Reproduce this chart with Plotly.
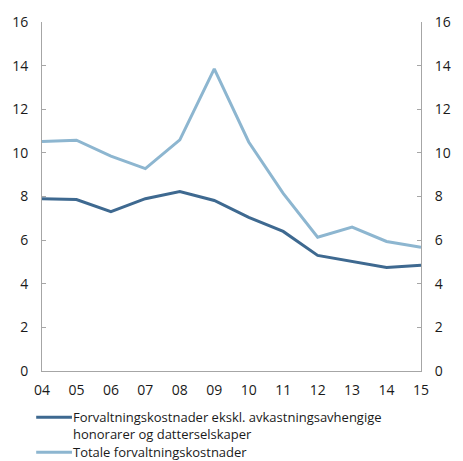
import plotly.graph_objects as go

years = ["04", "05", "06", "07", "08", "09", "10", "11", "12", "13", "14", "15"]
excl_costs = [7.9, 7.86, 7.31, 7.9, 8.23, 7.82, 7.04, 6.4, 5.3, 5.03, 4.75, 4.85]
total_costs = [10.52, 10.58, 9.85, 9.28, 10.6, 13.85, 10.5, 8.14, 6.13, 6.6, 5.94, 5.67]
y_ticks = [0, 2, 4, 6, 8, 10, 12, 14, 16]

legend_rows = [
    ["Forvaltningskostnader ekskl. avkastningsavhengige", "honorarer og datterselskaper"],
    ["Totale forvaltningskostnader"],
]

dark = "#3e6990"
light = "#8db6d0"
axis_col = "#a6a6a6"
text_col = "#1a1a1a"
family = "Open Sans"
tick_font = dict(family=family, size=14, color=text_col)
leg_size = 13
leg_font = dict(family=family, size=leg_size, color=text_col)

W, H = 463, 461
L, R, T, B = 39, 32, 21, 90
plot_w = W - L - R
plot_h = H - T - B

x_pos = list(range(len(years)))

fig = go.Figure()
fig.add_trace(go.Scatter(x=x_pos, y=excl_costs, mode="lines", showlegend=False,
                         line=dict(color=dark, width=3)))
fig.add_trace(go.Scatter(x=x_pos, y=total_costs, mode="lines", showlegend=False,
                         line=dict(color=light, width=3), yaxis="y2"))


def px_x(px):
    return (px - L) / plot_w


def px_y(py):
    return (H - B - py) / plot_h


# Hand-built legend below the plot: a line sample followed by (wrapped) text
line_h = 1.3 * leg_size
shapes = []
annotations = []
legend_entries = [(dark, legend_rows[0], 417.5), (light, legend_rows[1], 452.6)]
for color, lines, cy in legend_entries:
    shapes.append(dict(type="line", xref="paper", yref="paper",
                       x0=px_x(33), x1=px_x(70), y0=px_y(cy), y1=px_y(cy),
                       line=dict(color=color, width=3)))
    centre = cy + (len(lines) - 1) * line_h / 2
    annotations.append(dict(xref="paper", yref="paper", x=px_x(70), y=px_y(centre),
                            xanchor="left", yanchor="middle", align="left",
                            showarrow=False, text="<br>".join(lines), font=leg_font,
                            borderpad=0))

fig.update_layout(
    width=W, height=H,
    margin=dict(l=L, r=R, t=T, b=B),
    paper_bgcolor="white", plot_bgcolor="white",
    font=tick_font,
    showlegend=False,
    shapes=shapes,
    annotations=annotations,
    xaxis=dict(range=[0, len(years) - 1], tickvals=x_pos, ticktext=years,
               showgrid=False, zeroline=False, showline=True, linecolor=axis_col,
               linewidth=1, ticks="", tickfont=tick_font, ticklabelstandoff=6),
    yaxis=dict(range=[0, 16], tickvals=y_ticks, showgrid=False, zeroline=False,
               showline=True, linecolor=axis_col, linewidth=1, ticks="inside",
               ticklen=4, tickcolor=axis_col, tickfont=tick_font, ticklabelstandoff=10),
    yaxis2=dict(range=[0, 16], tickvals=y_ticks, overlaying="y", side="right",
                showgrid=False, zeroline=False, showline=True, linecolor=axis_col,
                linewidth=1, ticks="inside", ticklen=4, tickcolor=axis_col,
                tickfont=tick_font, ticklabelstandoff=10),
)

fig.write_html("out.html")
